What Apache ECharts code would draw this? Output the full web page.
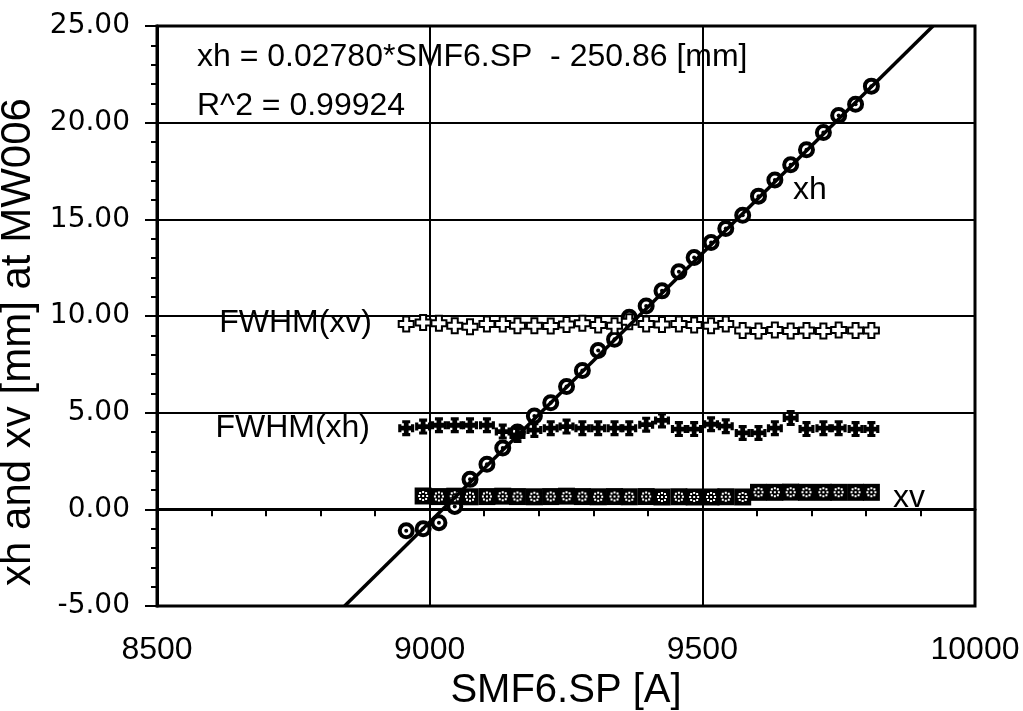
<!DOCTYPE html>
<html>
<head>
<meta charset="utf-8">
<title>xh and xv at MW006</title>
<script src="https://cdn.jsdelivr.net/npm/echarts@6.0.0/dist/echarts.min.js"></script>
<style>
  html, body { margin: 0; padding: 0; background: #fff; }
  #chart { width: 1023px; height: 711px; }
</style>
</head>
<body>
<div id="chart"></div>
<script>
// setpoint of SMF6 [A]
var smf6 = [8957, 8988, 9017, 9046, 9074, 9105, 9134, 9161, 9192, 9222, 9251, 9280, 9309, 9339, 9366,
  9397, 9426, 9457, 9485, 9516, 9543, 9574, 9603, 9633, 9662, 9691, 9722, 9750, 9781, 9810]
var xh = [-1.11, -1.01, -0.69, 0.15, 1.55, 2.33, 3.17, 4.00, 4.83, 5.51, 6.35, 7.18, 8.22, 8.80, 9.94,
  10.52, 11.30, 12.29, 13.02, 13.80, 14.53, 15.21, 16.20, 17.04, 17.82, 18.60, 19.49, 20.37, 20.95, 21.89]
var xv = [null, 0.69, 0.66, 0.68, 0.65, 0.66, 0.68, 0.66, 0.65, 0.66, 0.68, 0.66, 0.65, 0.66, 0.65,
  0.66, 0.64, 0.65, 0.64, 0.64, 0.65, 0.64, 0.88, 0.88, 0.89, 0.88, 0.88, 0.88, 0.88, 0.88]
var fwhmXv = [9.58, 9.66, 9.62, 9.50, 9.45, 9.58, 9.58, 9.50, 9.50, 9.48, 9.56, 9.62, 9.54, 9.50, 9.70,
  9.58, 9.56, 9.58, 9.54, 9.50, 9.58, 9.25, 9.22, 9.27, 9.22, 9.25, 9.22, 9.27, 9.25, 9.25]
var fwhmXh = [4.20, 4.28, 4.35, 4.35, 4.35, 4.35, 4.02, 3.85, 4.10, 4.20, 4.28, 4.20, 4.20, 4.20, 4.20,
  4.38, 4.60, 4.15, 4.15, 4.40, 4.30, 3.95, 3.95, 4.20, 4.72, 4.15, 4.20, 4.20, 4.15, 4.15]
// fitted line xh = 0.02780*SMF6.SP - 250.86, ends where it leaves the plot
var fitX = [8844, 9923]
var fitY = [-5, 25]
var xTicks = [8500, 9000, 9500, 10000]
var yTicks = [-5, 0, 5, 10, 15, 20, 25]

function pairs (xs, ys) {
  return xs.map(function (x, i) { return [x, ys[i]] }).filter(function (p) { return p[1] != null })
}

var font = '"Liberation Sans", Arial, sans-serif'
var openCross = 'path://M3,0H7V3H10V7H7V10H3V7H0V3H3Z'
var tCross = 'path://M2.5,0H7.5V2H6.5V3.5H8V2.5H10V7.5H8V6.5H6.5V8H7.5V10H2.5V8H3.5V6.5H2V7.5H0V2.5H2V3.5H3.5V2H2.5Z'
var dotRing = 'path://M4,0h2v2h-2z M7,1h2v2h-2z M8,4h2v2h-2z M7,7h2v2h-2z M4,8h2v2h-2z M1,7h2v2h-2z M0,4h2v2h-2z M1,1h2v2h-2z M4,4h2v2h-2z'

var myChart = echarts.init(document.getElementById('chart'))
var option = {
  backgroundColor: '#fff',
  animation: false,
  grid: {
    left: 157, right: 48, top: 26, bottom: 105,
    outerBoundsMode: 'none',
    show: true, borderColor: '#000', borderWidth: 3
  },
  xAxis: {
    type: 'value',
    min: xTicks[0], max: xTicks[xTicks.length - 1], interval: 500,
    name: 'SMF6.SP [A]',
    nameLocation: 'middle',
    nameGap: 53,
    nameTextStyle: { color: '#000', fontSize: 40, fontFamily: font },
    axisLine: { lineStyle: { color: '#000', width: 3 } },
    axisTick: { length: 15, lineStyle: { color: '#000', width: 2 } },
    minorTick: { show: true, splitNumber: 5, length: 7, lineStyle: { color: '#000', width: 2 } },
    axisLabel: {
      color: '#000', fontSize: 32, fontFamily: font, margin: 28,
      formatter: function (v) { return String(v) }
    },
    splitLine: { lineStyle: { color: '#000', width: 2 } }
  },
  yAxis: {
    type: 'value',
    min: yTicks[0], max: yTicks[yTicks.length - 1], interval: 5,
    name: 'xh and xv [mm] at MW006',
    nameLocation: 'middle',
    nameGap: 105,
    nameTextStyle: { color: '#000', fontSize: 42, fontFamily: font, padding: [0, 52, 0, 0] },
    axisLine: { lineStyle: { color: '#000', width: 3 } },
    axisTick: { length: 12, lineStyle: { color: '#000', width: 2 } },
    minorTick: { show: true, splitNumber: 5, length: 6, lineStyle: { color: '#000', width: 2 } },
    axisLabel: {
      color: '#000', fontSize: 28, fontFamily: '"DejaVu Sans", sans-serif', margin: 27,
      formatter: function (v) { return v.toFixed(2) }
    },
    splitLine: { lineStyle: { color: '#000', width: 2 } }
  },
  graphic: [
    { type: 'text', x: 197, y: 57, style: { text: 'xh = 0.02780*SMF6.SP  - 250.86 [mm]', font: '32px ' + font, fill: '#000', verticalAlign: 'middle' } },
    { type: 'text', x: 197, y: 106, style: { text: 'R^2 = 0.99924', font: '32px ' + font, fill: '#000', verticalAlign: 'middle' } },
    { type: 'text', x: 372, y: 323, style: { text: 'FWHM(xv)', font: '32px ' + font, fill: '#000', align: 'right', verticalAlign: 'middle' } },
    { type: 'text', x: 370, y: 428, style: { text: 'FWHM(xh)', font: '32px ' + font, fill: '#000', align: 'right', verticalAlign: 'middle' } },
    { type: 'text', x: 793, y: 190, style: { text: 'xh', font: '32px ' + font, fill: '#000', verticalAlign: 'middle' } },
    { type: 'text', x: 893, y: 498, style: { text: 'xv', font: '32px ' + font, fill: '#000', verticalAlign: 'middle' } }
  ],
  series: [
    {
      name: 'fit', type: 'line', data: pairs(fitX, fitY), showSymbol: false,
      lineStyle: { color: '#000', width: 3.5 }
    },
    {
      name: 'xh', type: 'scatter', data: pairs(smf6, xh), symbol: 'circle', symbolSize: 13,
      itemStyle: { color: '#fff', borderColor: '#000', borderWidth: 4, opacity: 1 }
    },
    {
      name: 'xh dot', type: 'scatter', data: pairs(smf6, xh), symbol: 'circle', symbolSize: 4,
      itemStyle: { color: '#000', opacity: 1 }
    },
    {
      name: 'xv', type: 'scatter', data: pairs(smf6, xv), symbol: 'rect', symbolSize: 17,
      itemStyle: { color: '#000', opacity: 1 }
    },
    {
      name: 'xv dot', type: 'scatter', data: pairs(smf6, xv), symbol: dotRing, symbolSize: 10,
      itemStyle: { color: '#fff', opacity: 1 }
    },
    {
      name: 'FWHM(xh)', type: 'scatter', data: pairs(smf6, fwhmXh), symbol: tCross, symbolSize: 16,
      itemStyle: { color: '#000', opacity: 1 }
    },
    {
      name: 'FWHM(xv)', type: 'scatter', data: pairs(smf6, fwhmXv), symbol: openCross, symbolSize: 15,
      itemStyle: { color: '#fff', borderColor: '#000', borderWidth: 2, opacity: 1 }
    }
  ]
}
myChart.setOption(option)
window.addEventListener('resize', function () {
  myChart.resize()
})
</script>
</body>
</html>
